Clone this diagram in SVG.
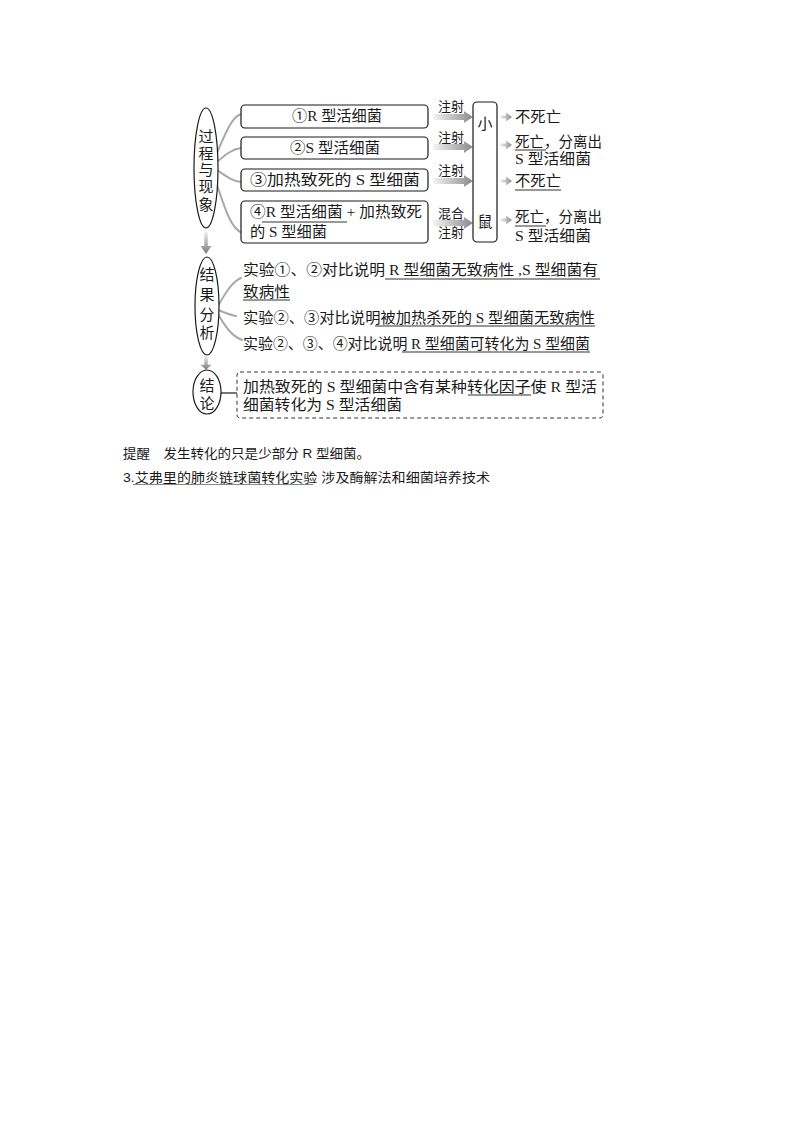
<svg xmlns="http://www.w3.org/2000/svg" width="800" height="1132" viewBox="0 0 800 1132">
<defs>
<linearGradient id="gh" x1="0" y1="0" x2="1" y2="0">
<stop offset="0" stop-color="#f4f4f4"/><stop offset="1" stop-color="#8a8a8a"/>
</linearGradient>
<linearGradient id="gv" x1="0" y1="0" x2="0" y2="1">
<stop offset="0" stop-color="#eeeeee"/><stop offset="1" stop-color="#7a7a7a"/>
</linearGradient>
<path id="inj" d="M0,-3 H31 V-6 L40,0 L31,6 V3 H0 Z" fill="url(#gh)"/>
<path id="out" d="M0,-1.5 H6 V-4.5 L12,0 L6,4.5 V1.5 H0 Z" fill="url(#gh)"/>
<path id="down" d="M-1.8,0 V14 H-5.5 L0,22 L5.5,14 H1.8 V0 Z" fill="url(#gv)"/>
<style>
text{font-family:"Liberation Serif","Noto Sans CJK SC",serif;fill:#1a1a1a;}
.t{font-size:15px;}
.s{font-size:13px;}
.b{font-size:13px;font-family:"Liberation Sans","Noto Sans CJK SC",sans-serif;}
.box{fill:#fff;stroke:#1a1a1a;stroke-width:1.2;}
.ell{fill:#fff;stroke:#1a1a1a;stroke-width:1.2;}
.u{stroke:#333;stroke-width:1;}
.cv{fill:none;stroke:#a8a8a8;stroke-width:2;stroke-linecap:round;}
</style>
</defs>
<rect width="800" height="1132" fill="#fff"/>

<g id="connectors">
<path class="cv" d="M216,155 C224,138 230,118 241,114"/>
<path class="cv" d="M217,162 C225,155 232,149 241,148"/>
<path class="cv" d="M217,170 C226,176 232,181 241,182"/>
<path class="cv" d="M216,182 C224,205 230,228 242,233"/>
<path class="cv" d="M218,306 C226,292 232,282 241,278"/>
<path class="cv" d="M218,310 C226,313 230,315 236,316"/>
<path class="cv" d="M218,314 C226,328 232,336 242,340"/>
<use href="#down" transform="translate(206,232)"/>
<use href="#down" transform="translate(206,356) scale(1,0.62)"/>
<line x1="221" y1="393" x2="237" y2="393" stroke="#1a1a1a" stroke-width="1.2"/>
<use href="#inj" transform="translate(433,117)"/>
<use href="#inj" transform="translate(433,147)"/>
<use href="#inj" transform="translate(433,181)"/>
<use href="#inj" transform="translate(433,223)"/>
<use href="#out" transform="translate(500,117)"/>
<use href="#out" transform="translate(500,145)"/>
<use href="#out" transform="translate(500,181)"/>
<use href="#out" transform="translate(500,220)"/>
</g>

<g id="n-process">
<ellipse class="ell" cx="206" cy="168" rx="12" ry="60"/>
<text class="t" x="206" y="142" text-anchor="middle">过</text>
<text class="t" x="206" y="159" text-anchor="middle">程</text>
<text class="t" x="206" y="175" text-anchor="middle">与</text>
<text class="t" x="206" y="192" text-anchor="middle">现</text>
<text class="t" x="206" y="210" text-anchor="middle">象</text>
</g>

<g id="n-box1">
<rect class="box" x="241" y="105" width="187" height="23" rx="4"/>
<text class="t" x="292" y="121" textLength="90" lengthAdjust="spacingAndGlyphs">①R 型活细菌</text>
</g>
<g id="n-box2">
<rect class="box" x="241" y="137" width="187" height="22" rx="4"/>
<text class="t" x="290" y="153" textLength="90" lengthAdjust="spacingAndGlyphs">②S 型活细菌</text>
</g>
<g id="n-box3">
<rect class="box" x="241" y="169" width="187" height="22" rx="4"/>
<text class="t" x="250" y="185" textLength="170" lengthAdjust="spacingAndGlyphs">③加热致死的 S 型细菌</text>
</g>
<g id="n-box4">
<rect class="box" x="241" y="201" width="187" height="42" rx="4"/>
<text class="t" x="250" y="217" textLength="172" lengthAdjust="spacingAndGlyphs">④R 型活细菌 + 加热致死</text>
<text class="t" x="250" y="237" textLength="77" lengthAdjust="spacingAndGlyphs">的 S 型细菌</text>
<line class="u" x1="262" y1="222" x2="347" y2="222"/>
</g>

<g id="l-inj">
<text class="s" x="438" y="111">注射</text>
<text class="s" x="438" y="142">注射</text>
<text class="s" x="438" y="175">注射</text>
<text class="s" x="438" y="218">混合</text>
<text class="s" x="438" y="237">注射</text>
</g>

<g id="n-mouse">
<rect class="box" x="473" y="102" width="24" height="140" rx="4"/>
<text class="t" x="485" y="129" text-anchor="middle">小</text>
<text class="t" x="485" y="227" text-anchor="middle">鼠</text>
</g>

<g id="n-outcomes">
<text class="t" x="515" y="122" textLength="46" lengthAdjust="spacingAndGlyphs">不死亡</text>
<text class="t" x="515" y="147" textLength="87" lengthAdjust="spacingAndGlyphs">死亡，分离出</text>
<text class="t" x="515" y="164" textLength="76" lengthAdjust="spacingAndGlyphs">S 型活细菌</text>
<line class="u" x1="515" y1="150" x2="546" y2="150"/>
<text class="t" x="515" y="186" textLength="46" lengthAdjust="spacingAndGlyphs">不死亡</text>
<line class="u" x1="515" y1="190" x2="561" y2="190"/>
<text class="t" x="515" y="222" textLength="87" lengthAdjust="spacingAndGlyphs">死亡，分离出</text>
<text class="t" x="515" y="241" textLength="76" lengthAdjust="spacingAndGlyphs">S 型活细菌</text>
<line class="u" x1="515" y1="226" x2="546" y2="226"/>
</g>

<g id="n-analysis">
<ellipse class="ell" cx="207" cy="306" rx="12" ry="49"/>
<text class="t" x="207" y="280" text-anchor="middle">结</text>
<text class="t" x="207" y="300" text-anchor="middle">果</text>
<text class="t" x="207" y="320" text-anchor="middle">分</text>
<text class="t" x="207" y="338" text-anchor="middle">析</text>
</g>

<g id="n-results">
<text class="t" x="243" y="275" textLength="355" lengthAdjust="spacingAndGlyphs">实验①、②对比说明 R 型细菌无致病性 ,S 型细菌有</text>
<line class="u" x1="385" y1="279" x2="600" y2="279"/>
<text class="t" x="243" y="297" textLength="47" lengthAdjust="spacingAndGlyphs">致病性</text>
<line class="u" x1="243" y1="300" x2="290" y2="300"/>
<text class="t" x="243" y="323" textLength="352" lengthAdjust="spacingAndGlyphs">实验②、③对比说明被加热杀死的 S 型细菌无致病性</text>
<line class="u" x1="375" y1="326" x2="595" y2="326"/>
<text class="t" x="243" y="349" textLength="347" lengthAdjust="spacingAndGlyphs">实验②、③、④对比说明 R 型细菌可转化为 S 型细菌</text>
<line class="u" x1="402" y1="352" x2="590" y2="352"/>
</g>

<g id="n-conclusion">
<ellipse class="ell" cx="207" cy="392" rx="14" ry="22"/>
<text class="t" x="207" y="391" text-anchor="middle">结</text>
<text class="t" x="207" y="409" text-anchor="middle">论</text>
</g>

<g id="n-conclusion-text">
<rect x="237" y="372" width="366" height="46" rx="3" fill="none" stroke="#333" stroke-width="1" stroke-dasharray="4 3"/>
<text class="t" x="243" y="392" textLength="354" lengthAdjust="spacingAndGlyphs">加热致死的 S 型细菌中含有某种转化因子使 R 型活</text>
<line class="u" x1="468" y1="395" x2="531" y2="395"/>
<text class="t" x="243" y="410" textLength="159" lengthAdjust="spacingAndGlyphs">细菌转化为 S 型活细菌</text>
</g>

<g id="notes">
<text class="b" x="123" y="458" textLength="247" lengthAdjust="spacingAndGlyphs">提醒　发生转化的只是少部分 R 型细菌。</text>
<text class="b" x="123" y="482" textLength="367" lengthAdjust="spacingAndGlyphs">3.艾弗里的肺炎链球菌转化实验 涉及酶解法和细菌培养技术</text>
<line x1="133" y1="484.5" x2="313" y2="484.5" stroke="#888" stroke-width="1"/>
</g>
</svg>
